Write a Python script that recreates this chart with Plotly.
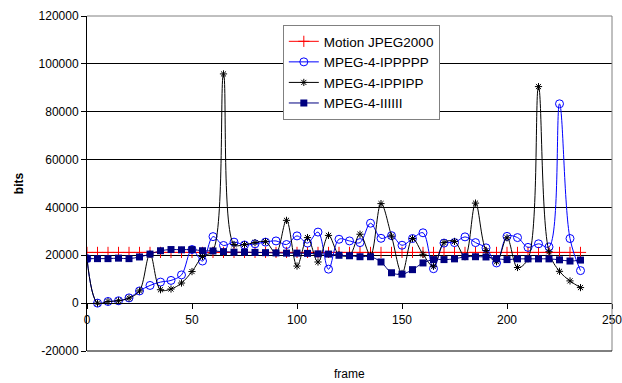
import plotly.graph_objects as go

frames = [0, 5, 10, 15, 20, 25, 30, 35, 40, 45, 50, 55, 60, 65, 70, 75, 80, 85, 90, 95,
          100, 105, 110, 115, 120, 125, 130, 135, 140, 145, 150, 155, 160, 165, 170, 175,
          180, 185, 190, 195, 200, 205, 210, 215, 220, 225, 230, 235]

mjpeg2000 = [21200, 21200, 21200, 21200, 21200, 21200, 21200, 21200, 21200, 21200, 21200, 21200,
             21200, 21200, 21200, 21200, 21200, 21200, 21200, 21200, 21200, 21200, 21200, 21200,
             21200, 21200, 21200, 21200, 21200, 21200, 21200, 21200, 21200, 21200, 21200, 21200,
             21200, 21200, 21200, 21200, 21200, 21200, 21200, 21200, 21200, 21200, 21200, 21200]

ippppp = [18600, 0, 700, 1000, 2200, 5100, 7400, 8800, 9500, 11800, 22400, 17600,
          27800, 24100, 25500, 24300, 24800, 25500, 26000, 24500, 28100, 25100, 29700, 14200,
          26700, 26000, 25300, 33400, 27100, 28200, 24200, 27000, 29400, 14400, 25100, 25300,
          27700, 25300, 23100, 16800, 27900, 27400, 23300, 24800, 23500, 83300, 27000, 13600]

ippipp = [18600, 0, 700, 1000, 2100, 5100, 20500, 5600, 5900, 8400, 13200, 19500,
          22000, 95800, 24500, 24500, 25300, 25700, 21000, 34600, 15500, 27400, 17200, 28300,
          20300, 20000, 28800, 20000, 41600, 28000, 12400, 27000, 20400, 15400, 25300, 25800,
          19400, 41800, 22000, 17300, 27300, 14900, 18500, 90500, 21500, 13300, 9300, 6500]

iiiiii = [18600, 18600, 18600, 18800, 18600, 19300, 20500, 21900, 22400, 22300, 22400, 21900,
          21800, 21500, 21300, 21300, 21200, 21100, 21000, 20900, 20900, 20800, 20600, 20500,
          20000, 19800, 19400, 19400, 17200, 12700, 12100, 14000, 16800, 18200, 18200, 18500,
          19400, 19400, 19300, 18600, 18200, 18500, 18500, 18500, 18500, 18100, 17600, 18000]

y_tickvals = [-20000, 0, 20000, 40000, 60000, 80000, 100000, 120000]
y_ticktext = ["-20000", "0", "20000", "40000", "60000", "80000", "100000", "120000"]
x_tickvals = [0, 50, 100, 150, 200, 250]
x_ticktext = ["0", "50", "100", "150", "200", "250"]

FONT = "Liberation Sans, Arial, sans-serif"

fig = go.Figure()
fig.add_trace(go.Scatter(x=frames, y=mjpeg2000, name="Motion JPEG2000", mode="lines+markers",
                         line=dict(color="#ff0000", width=1, shape="spline"),
                         marker=dict(symbol="cross-thin", size=8, line=dict(color="#ff0000", width=1))))
fig.add_trace(go.Scatter(x=frames, y=ippppp, name="MPEG-4-IPPPPP", mode="lines+markers",
                         line=dict(color="#0000ff", width=1, shape="spline"),
                         marker=dict(symbol="circle-open", size=8, color="#0000ff", line=dict(width=1))))
fig.add_trace(go.Scatter(x=frames, y=ippipp, name="MPEG-4-IPPIPP", mode="lines+markers",
                         line=dict(color="#000000", width=1, shape="spline"),
                         marker=dict(symbol="asterisk-open", size=6, line=dict(color="#000000", width=1))))
fig.add_trace(go.Scatter(x=frames, y=iiiiii, name="MPEG-4-IIIIII", mode="lines+markers",
                         line=dict(color="#000080", width=1, shape="spline"),
                         marker=dict(symbol="square", size=7, color="#000080")))

fig.update_layout(
    width=622, height=383,
    margin=dict(l=87, r=10, t=16, b=32),
    paper_bgcolor="white", plot_bgcolor="white",
    font=dict(family=FONT, size=12, color="#000000"),
    showlegend=True,
    legend=dict(x=0.373, y=0.973, xanchor="left", yanchor="top",
                bgcolor="white", bordercolor="#808080", borderwidth=1,
                font=dict(family=FONT, size=13.5, color="#000000")),
    xaxis=dict(range=[0, 250], tickvals=x_tickvals, ticktext=x_ticktext, automargin=False,
               anchor="free", position=1/7, showline=True, linecolor="#000000", linewidth=1,
               ticks="outside", ticklen=5, tickcolor="#000000", showgrid=False, zeroline=False,
               ticklabeloverflow="allow",
               tickfont=dict(family=FONT, size=12)),
    yaxis=dict(range=[-20000, 120000], tickvals=y_tickvals, ticktext=y_ticktext, automargin=False,
               showline=True, linecolor="#000000", linewidth=1,
               ticks="outside", ticklen=5, tickcolor="#000000",
               showgrid=True, gridcolor="#000000", gridwidth=1, zeroline=False,
               tickfont=dict(family=FONT, size=12),
               title=dict(text="<b>bits</b>", font=dict(family=FONT, size=12), standoff=12)),
    shapes=[
        dict(type="line", xref="paper", yref="paper", x0=0, x1=1, y0=1, y1=1,
             line=dict(color="#808080", width=1)),
        dict(type="line", xref="paper", yref="paper", x0=1, x1=1, y0=0, y1=1,
             line=dict(color="#808080", width=1)),
        dict(type="line", xref="paper", yref="paper", x0=0, x1=1, y0=0, y1=0,
             line=dict(color="#000000", width=1)),
    ],
    annotations=[
        dict(text="frame", xref="paper", yref="paper", x=0.5, y=0, yshift=-23,
             xanchor="center", yanchor="middle", showarrow=False,
             font=dict(family=FONT, size=12, color="#000000")),
    ],
)

fig.write_html("out.html", config={"displayModeBar": False},
               post_script="document.body.style.margin='0';document.body.style.overflow='hidden';")
